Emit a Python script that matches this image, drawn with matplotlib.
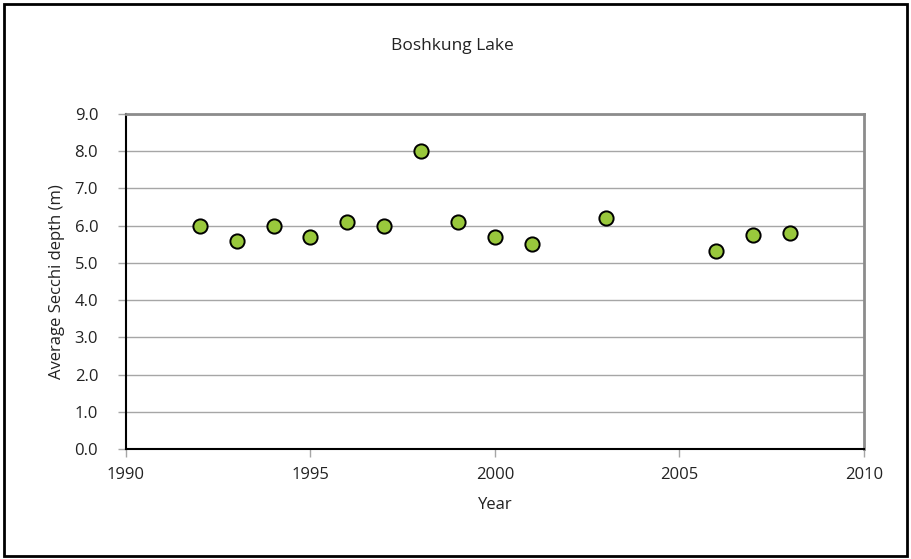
"""Average Secchi depth by year for Boshkung Lake."""

import matplotlib

matplotlib.use("Agg")
import matplotlib.pyplot as plt
from matplotlib.patches import Rectangle

years = [1992, 1993, 1994, 1995, 1996, 1997, 1998, 1999, 2000, 2001, 2003, 2006, 2007, 2008]
secchi_depth = [6.0, 5.6, 6.0, 5.7, 6.1, 6.0, 8.0, 6.1, 5.7, 5.5, 6.2, 5.33, 5.75, 5.8]
x_ticks = [1990, 1995, 2000, 2005, 2010]
y_ticks = [0.0, 1.0, 2.0, 3.0, 4.0, 5.0, 6.0, 7.0, 8.0, 9.0]

plt.rcParams["font.family"] = ["Open Sans", "DejaVu Sans"]

fig = plt.figure(figsize=(9.11, 5.59), dpi=100)
ax = fig.add_axes([0.1383, 0.1968, 0.8101, 0.5993])

ax.set_xlim(1990, 2010)
ax.set_ylim(0, 9)
ax.set_xticks(x_ticks)
ax.set_yticks(y_ticks)
ax.set_yticklabels([f"{v:.1f}" for v in y_ticks])
ax.grid(axis="y", color="#a6a6a6", linewidth=1.0)
ax.set_axisbelow(True)

ax.scatter(years, secchi_depth, s=105, color="#99c83c", edgecolors="black",
           linewidths=1.4, zorder=3, clip_on=False)

for side in ("top", "right"):
    ax.spines[side].set_color("#8c8c8c")
    ax.spines[side].set_linewidth(2.0)
for side in ("left", "bottom"):
    ax.spines[side].set_color("black")
    ax.spines[side].set_linewidth(1.5)

ax.tick_params(axis="both", direction="out", length=6, width=1, color="#a6a6a6",
               labelsize=12, labelcolor="#222222")
ax.tick_params(axis="y", pad=14)
ax.tick_params(axis="x", pad=7)
ax.set_xlabel("Year", fontsize=12, color="#222222", labelpad=10)
ax.set_ylabel("Average Secchi depth (m)", fontsize=12, color="#222222", labelpad=7)

fig.text(0.497, 0.918, "Boshkung Lake", ha="center", va="center", fontsize=12.5, color="#222222")

fig.patches.append(Rectangle((0.004, 0.005), 0.992, 0.988, transform=fig.transFigure,
                             fill=False, edgecolor="black", linewidth=2))

fig.savefig("out.png", dpi=100)
